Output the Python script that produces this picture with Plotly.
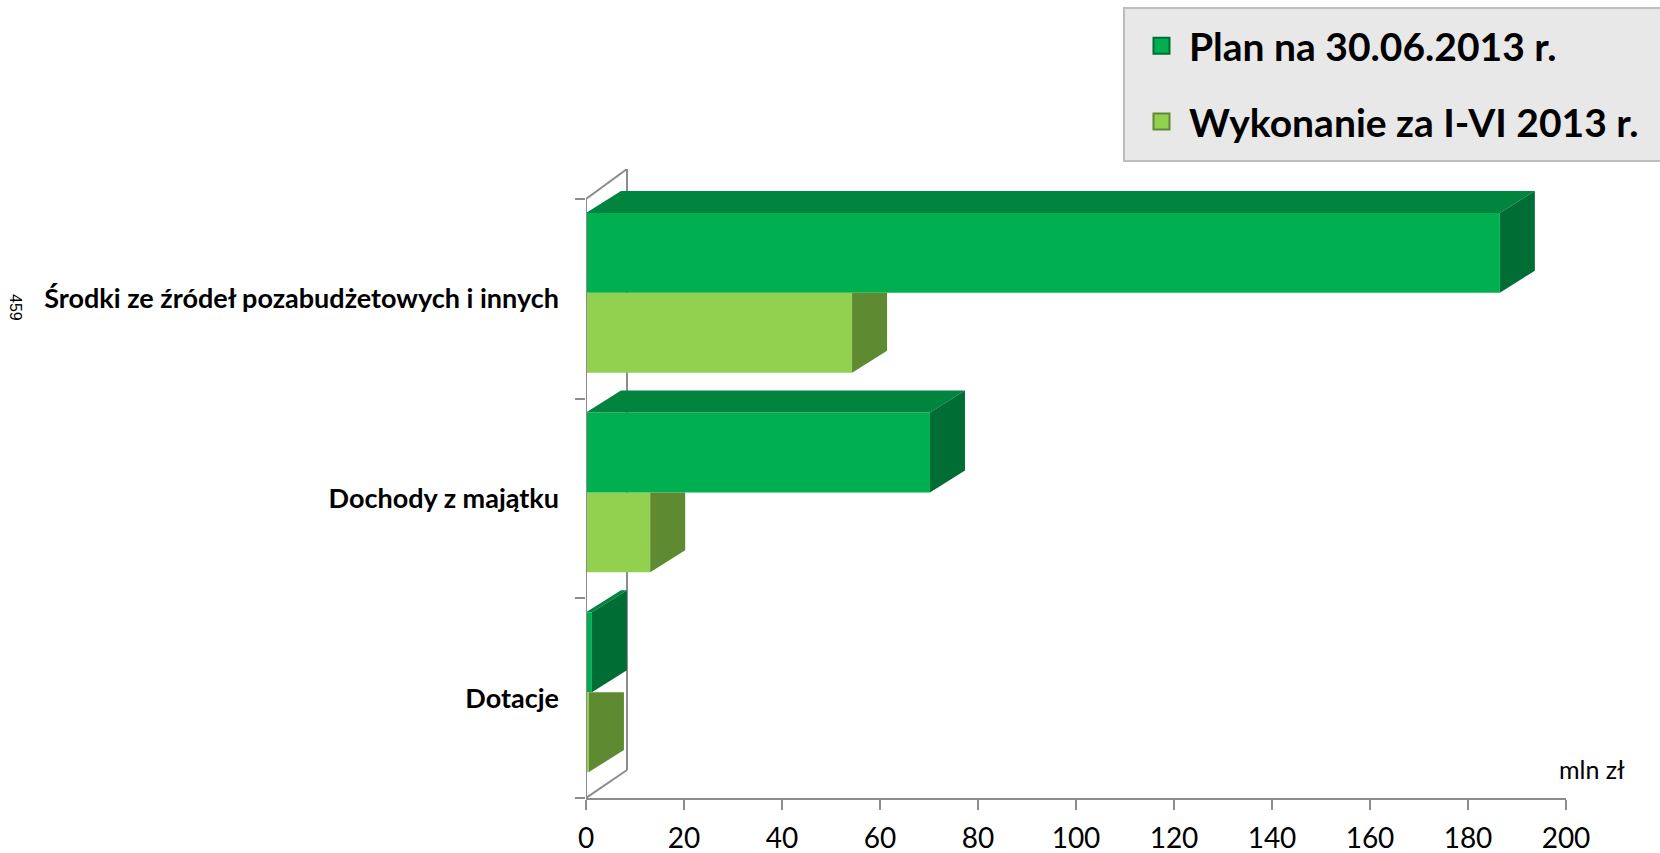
import plotly.graph_objects as go

# ---------------- data ----------------
categories = ["Dotacje", "Dochody z majątku", "Środki ze źródeł pozabudżetowych i innych"]
plan_values = [1.2, 70.2, 186.5]
wyk_values = [0.6, 13.1, 54.3]
series_names = ["Plan na 30.06.2013 r.", "Wykonanie za I-VI 2013 r."]
x_ticks = [0, 20, 40, 60, 80, 100, 120, 140, 160, 180, 200]

# ---------------- style / geometry ----------------
W, H = 1660, 853
L, R, T, B = 586, 94, 169, 55
X_MAX = 200
Y_MIN, Y_MAX = -0.5, 2.65
PW, PH = W - L - R, H - T - B
px_x = PW / X_MAX
px_y = PH / (Y_MAX - Y_MIN)


def paper_x(px):
    return (px - L) / PW


def paper_y(py):
    return (H - B - py) / PH


DEPTH_DX = 35 / px_x      # 3-D depth of bars (data units)
DEPTH_DY = 22 / px_y
WALL_DX = 41 / px_x
WALL_DY = 28 / px_y

SPLIT = 0.03   # plan sits above, wykonanie below
BAR_H = 0.40

PLAN_FRONT, PLAN_TOP, PLAN_SIDE = "#00B050", "#00843E", "#006E34"
WYK_FRONT, WYK_SIDE = "#92D050", "#5E8A31"
AXIS_COLOR = "#8C8C8C"

ypos = list(range(len(categories)))

fig = go.Figure()

# front faces (real bars)
fig.add_trace(go.Bar(
    y=ypos, x=wyk_values, orientation="h", base=0,
    width=BAR_H, offset=SPLIT - BAR_H,
    marker=dict(color=WYK_FRONT, line=dict(width=0)),
    name=series_names[1], showlegend=False, hoverinfo="x",
))
fig.add_trace(go.Bar(
    y=ypos, x=plan_values, orientation="h", base=0,
    width=BAR_H, offset=SPLIT,
    marker=dict(color=PLAN_FRONT, line=dict(width=0)),
    name=series_names[0], showlegend=False, hoverinfo="x",
))


def side_poly(vals, y0s, y1s, clip=False):
    xs, ys = [], []
    for v, y0, y1 in zip(vals, y0s, y1s):
        top = y1 if clip else y1 + DEPTH_DY
        xs += [v, v + DEPTH_DX, v + DEPTH_DX, v, v, None]
        ys += [y0, y0 + DEPTH_DY, top, y1, y0, None]
    return xs, ys


def top_poly(vals, ytops):
    xs, ys = [], []
    for v, yt in zip(vals, ytops):
        xs += [0, DEPTH_DX, v + DEPTH_DX, v, 0, None]
        ys += [yt, yt + DEPTH_DY, yt + DEPTH_DY, yt, yt, None]
    return xs, ys


# wykonanie side faces (clipped under the plan bar)
wy0 = [c + SPLIT - BAR_H for c in ypos]
wy1 = [c + SPLIT for c in ypos]
xs, ys = side_poly(wyk_values, wy0, wy1, clip=True)
fig.add_trace(go.Scatter(x=xs, y=ys, fill="toself", fillcolor=WYK_SIDE, mode="lines",
                         line=dict(width=0, color=WYK_SIDE), showlegend=False, hoverinfo="skip"))

# plan side and top faces
py0 = [c + SPLIT for c in ypos]
py1 = [c + SPLIT + BAR_H for c in ypos]
xs, ys = top_poly(plan_values, py1)
fig.add_trace(go.Scatter(x=xs, y=ys, fill="toself", fillcolor=PLAN_TOP, mode="lines",
                         line=dict(width=0, color=PLAN_TOP), showlegend=False, hoverinfo="skip"))
xs, ys = side_poly(plan_values, py0, py1)
fig.add_trace(go.Scatter(x=xs, y=ys, fill="toself", fillcolor=PLAN_SIDE, mode="lines",
                         line=dict(width=0, color=PLAN_SIDE), showlegend=False, hoverinfo="skip"))

# legend entries
for i, (nm, col, edge) in enumerate([(series_names[0], PLAN_FRONT, "#006E34"),
                                     (series_names[1], WYK_FRONT, "#5E8A31")]):
    fig.add_trace(go.Scatter(x=[None], y=[None], mode="markers", name=nm, legendgroup=f"g{i}",
                             marker=dict(symbol="square", size=16, color=col,
                                         line=dict(color=edge, width=2))))

# legend background box
fig.add_shape(type="rect", xref="paper", yref="paper",
              x0=paper_x(1124), x1=paper_x(1666), y0=paper_y(161), y1=paper_y(8),
              fillcolor="#E8E8E8", line=dict(color="#BDBDBD", width=2), layer="below")

# back wall lines
shape_line = dict(color=AXIS_COLOR, width=2)
fig.add_shape(type="line", x0=WALL_DX, x1=WALL_DX, y0=Y_MIN + WALL_DY, y1=Y_MAX,
              line=shape_line, layer="below")
fig.add_shape(type="line", x0=0, x1=WALL_DX, y0=Y_MIN, y1=Y_MIN + WALL_DY,
              line=shape_line, layer="below")
fig.add_shape(type="line", x0=0, x1=WALL_DX, y0=len(categories) - 0.5, y1=Y_MAX,
              line=shape_line, layer="below")
# left (front) axis line
fig.add_shape(type="line", x0=0, x1=0, y0=Y_MIN, y1=len(categories) - 0.5,
              line=shape_line, layer="above")

fig.add_annotation(text="mln zł", x=paper_x(1592), y=paper_y(769), xref="paper", yref="paper",
                   xanchor="center", yanchor="middle", showarrow=False,
                   font=dict(family="Lato", size=25, color="#000"))

fig.add_annotation(text="459", x=paper_x(16), y=paper_y(307), xref="paper", yref="paper",
                   showarrow=False, textangle=90, xanchor="center", yanchor="middle",
                   font=dict(family="Liberation Sans", size=16, color="#000"))

fig.update_layout(
    width=W, height=H,
    margin=dict(l=L, r=R, t=T, b=B, autoexpand=False),
    paper_bgcolor="white", plot_bgcolor="white",
    barmode="overlay",
    showlegend=True,
    legend=dict(
        x=paper_x(1134), y=paper_y(14),
        xanchor="left", yanchor="top",
        bgcolor="rgba(0,0,0,0)", borderwidth=0,
        font=dict(family="Lato", size=39, color="#000", weight="bold"),
        itemwidth=45, tracegroupgap=22,
    ),
    xaxis=dict(
        range=[0, X_MAX], tickvals=x_ticks, ticktext=[str(t) for t in x_ticks],
        showgrid=False, zeroline=False, showline=True, linecolor=AXIS_COLOR, linewidth=2,
        ticks="outside", ticklen=10, tickcolor=AXIS_COLOR, tickwidth=2,
        ticklabelstandoff=4,
        tickfont=dict(family="Lato", size=28, color="#000"),
    ),
    yaxis=dict(
        range=[Y_MIN, Y_MAX], tickvals=ypos, ticktext=categories,
        showgrid=False, zeroline=False, showline=False,
        ticks="", ticklabelstandoff=26,
        tickfont=dict(family="Lato", size=27, color="#000", weight="bold"),
        minor=dict(tickvals=[-0.5, 0.5, 1.5, 2.5], ticks="outside", ticklen=10,
                   tickcolor=AXIS_COLOR, tickwidth=2, showgrid=False),
    ),
)

fig.write_html("out.html")
